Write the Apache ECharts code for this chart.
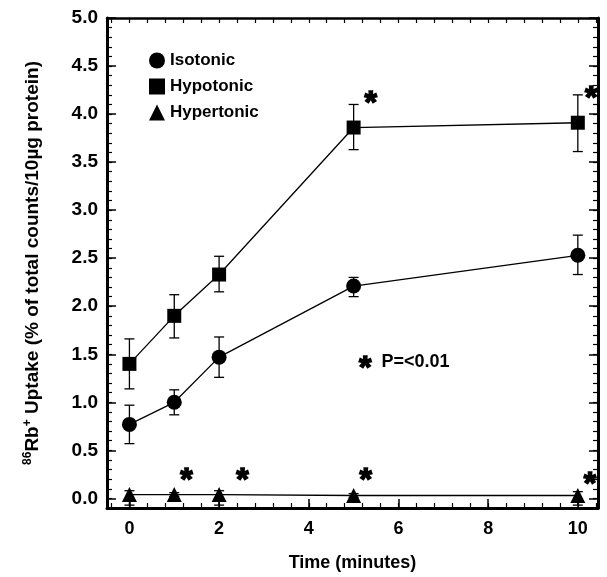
<!DOCTYPE html>
<html>
<head>
<meta charset="utf-8">
<script src="https://cdn.jsdelivr.net/npm/echarts@6/dist/echarts.min.js"></script>
<style>
  html, body { margin: 0; padding: 0; background: #fff; }
  #main { width: 607px; height: 577px; }
</style>
</head>
<body>
<div id="main"></div>
<script>
var myChart = echarts.init(document.getElementById('main'));

// time points (minutes)
var times = [0, 1, 2, 5, 10];

// mean uptake and error bar ends
var isotonic = [0.77, 1.00, 1.47, 2.21, 2.53];
var isotonicLow = [0.57, 0.87, 1.26, 2.10, 2.33];
var isotonicHigh = [0.97, 1.13, 1.68, 2.30, 2.74];

var hypotonic = [1.40, 1.90, 2.33, 3.86, 3.91];
var hypotonicLow = [1.14, 1.67, 2.15, 3.63, 3.61];
var hypotonicHigh = [1.66, 2.12, 2.52, 4.10, 4.20];

var hypertonic = [0.04, 0.04, 0.04, 0.03, 0.03];
var hypertonicLow = [-0.07, 0.02, -0.07, 0.01, -0.07];
var hypertonicHigh = [0.08, 0.06, 0.08, 0.05, 0.07];

// significance marks [x, y]
var stars = [[1.27, 0.18], [2.52, 0.18], [5.27, 0.18], [10.27, 0.14], [5.38, 4.10], [10.3, 4.15]];
var noteAt = [5.12, 1.42];

var xLabels = [0, 2, 4, 6, 8, 10];
var yLabels = [0, 0.5, 1, 1.5, 2, 2.5, 3, 3.5, 4, 4.5, 5];

var xMinor = [];
for (var i = -1; i <= 26; i++) xMinor.push(+(i * 0.4).toFixed(1));
var yMinor = [];
for (var j = -1; j <= 50; j++) yMinor.push(+(j * 0.1).toFixed(1));

function pairs(ys) {
  return times.map(function (t, k) { return [t, ys[k]]; });
}
function bars(lo, hi) {
  return times.map(function (t, k) { return [t, lo[k], hi[k]]; });
}

var errorBar = function (params, api) {
  var lo = api.coord([api.value(0), api.value(1)]);
  var hi = api.coord([api.value(0), api.value(2)]);
  var w = 5;
  var st = { stroke: '#000', lineWidth: 1.3 };
  return {
    type: 'group',
    children: [
      { type: 'line', shape: { x1: lo[0], y1: lo[1], x2: hi[0], y2: hi[1] }, style: st },
      { type: 'line', shape: { x1: lo[0] - w, y1: lo[1], x2: lo[0] + w, y2: lo[1] }, style: st },
      { type: 'line', shape: { x1: hi[0] - w, y1: hi[1], x2: hi[0] + w, y2: hi[1] }, style: st }
    ]
  };
};

var font = 'Liberation Sans';
var xMin = -0.5, xMax = 10.45, yMin = -0.1, yMax = 5.0;

var baseX = { type: 'value', min: xMin, max: xMax, splitLine: { show: false } };
var baseY = { type: 'value', min: yMin, max: yMax, splitLine: { show: false } };

var starStyle = {
  fontFamily: font, fontSize: 32, fontWeight: 'bold', color: '#000',
  textBorderColor: '#000', textBorderWidth: 1.5, padding: [14, 0, 0, 0]
};

option = {
  animation: false,
  backgroundColor: '#fff',
  grid: { left: 107, top: 18, right: 9, bottom: 67 },
  legend: {
    orient: 'vertical',
    left: 144,
    top: 47,
    itemGap: 9,
    itemWidth: 16,
    itemHeight: 16,
    textStyle: { fontFamily: font, fontSize: 17, fontWeight: 'bold', color: '#000' },
    data: [
      { name: 'Isotonic', icon: 'circle' },
      { name: 'Hypotonic', icon: 'rect' },
      { name: 'Hypertonic', icon: 'triangle' }
    ]
  },
  xAxis: [
    Object.assign({}, baseX, {
      position: 'bottom',
      name: 'Time (minutes)',
      nameLocation: 'middle',
      nameGap: 46,
      nameTextStyle: { fontFamily: font, fontSize: 18, fontWeight: 'bold', color: '#000' },
      axisLine: { onZero: false, lineStyle: { color: '#000', width: 3 } },
      axisTick: { inside: true, length: 9, customValues: xLabels, lineStyle: { color: '#000', width: 1.5 } },
      axisLabel: { customValues: xLabels, margin: 12, fontFamily: font, fontSize: 18, fontWeight: 'bold', color: '#000' }
    }),
    Object.assign({}, baseX, {
      position: 'bottom',
      axisLine: { show: false, onZero: false },
      axisTick: { inside: true, length: 5, customValues: xMinor, lineStyle: { color: '#000', width: 1.2 } },
      axisLabel: { show: false }
    }),
    Object.assign({}, baseX, {
      position: 'top',
      axisLine: { onZero: false, lineStyle: { color: '#000', width: 2.5 } },
      axisTick: { inside: true, length: 5, customValues: xMinor, lineStyle: { color: '#000', width: 1.2 } },
      axisLabel: { show: false }
    })
  ],
  yAxis: [
    Object.assign({}, baseY, {
      position: 'left',
      name: '{sup|86}Rb{sup|+} Uptake (% of total counts/10µg protein)',
      nameLocation: 'middle',
      nameGap: 64,
      nameTextStyle: {
        fontFamily: font, fontSize: 19, fontWeight: 'bold', color: '#000',
        rich: { sup: { fontFamily: font, fontSize: 12, fontWeight: 'bold', color: '#000', verticalAlign: 'top', padding: [0, 0, 9, 0] } }
      },
      axisLine: { onZero: false, lineStyle: { color: '#000', width: 3 } },
      axisTick: { inside: true, length: 9, customValues: yLabels, lineStyle: { color: '#000', width: 1.5 } },
      axisLabel: {
        customValues: yLabels, margin: 9, fontFamily: font, fontSize: 19, fontWeight: 'bold', color: '#000',
        formatter: function (v) { return v.toFixed(1); }
      }
    }),
    Object.assign({}, baseY, {
      position: 'left',
      axisLine: { show: false, onZero: false },
      axisTick: { inside: true, length: 5, customValues: yMinor, lineStyle: { color: '#000', width: 1.2 } },
      axisLabel: { show: false }
    }),
    Object.assign({}, baseY, {
      position: 'right',
      axisLine: { onZero: false, lineStyle: { color: '#000', width: 3 } },
      axisTick: { inside: true, length: 9, customValues: yLabels, lineStyle: { color: '#000', width: 1.5 } },
      axisLabel: { show: false }
    }),
    Object.assign({}, baseY, {
      position: 'right',
      axisLine: { show: false, onZero: false },
      axisTick: { inside: true, length: 5, customValues: yMinor, lineStyle: { color: '#000', width: 1.2 } },
      axisLabel: { show: false }
    })
  ],
  series: [
    {
      name: 'Isotonic', type: 'line', symbol: 'circle', symbolSize: 15,
      itemStyle: { color: '#000' }, lineStyle: { color: '#000', width: 1.3 },
      data: pairs(isotonic), z: 3
    },
    { type: 'custom', renderItem: errorBar, data: bars(isotonicLow, isotonicHigh), z: 2 },
    {
      name: 'Hypotonic', type: 'line', symbol: 'rect', symbolSize: 14,
      itemStyle: { color: '#000' }, lineStyle: { color: '#000', width: 1.3 },
      data: pairs(hypotonic), z: 3
    },
    { type: 'custom', renderItem: errorBar, data: bars(hypotonicLow, hypotonicHigh), z: 2 },
    {
      name: 'Hypertonic', type: 'line', symbol: 'triangle', symbolSize: 15,
      itemStyle: { color: '#000' }, lineStyle: { color: '#000', width: 1.3 },
      data: pairs(hypertonic), z: 3
    },
    { type: 'custom', renderItem: errorBar, data: bars(hypertonicLow, hypertonicHigh), z: 2 },
    {
      type: 'scatter', symbolSize: 0, data: stars, silent: true,
      itemStyle: { opacity: 1, color: '#000' },
      label: Object.assign({ show: true, position: 'inside', formatter: '*' }, starStyle)
    },
    {
      type: 'scatter', symbolSize: 0, data: [noteAt], silent: true,
      itemStyle: { opacity: 1, color: '#000' },
      label: {
        show: true, position: 'right', distance: 0,
        formatter: '{a|*}  P=<0.01',
        fontFamily: font, fontSize: 18, fontWeight: 'bold', color: '#000',
        rich: { a: starStyle }
      }
    }
  ]
};

myChart.setOption(option);
</script>
</body>
</html>
